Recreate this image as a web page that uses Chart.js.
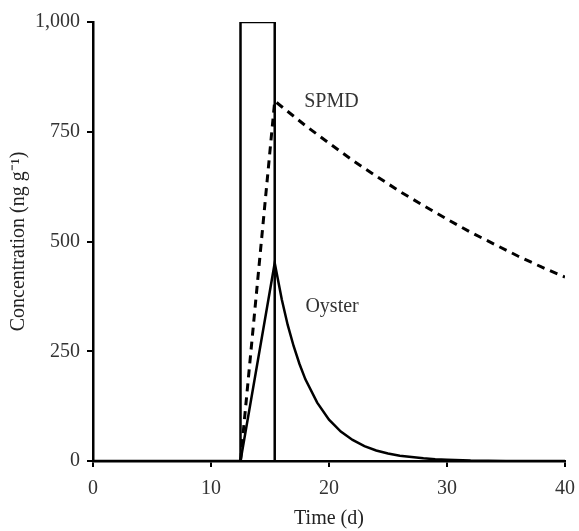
<!DOCTYPE html>
<html>
<head>
<meta charset="utf-8">
<script src="https://cdn.jsdelivr.net/npm/chart.js@4/dist/chart.umd.min.js"></script>
<style>
  html, body { margin: 0; padding: 0; background: #fff; }
  #wrap { width: 579px; height: 531px; }
</style>
</head>
<body>
<div id="wrap"><canvas id="chart"></canvas></div>
<script>
// exposure pulse (box)
const pulseDays = [12.5, 12.5, 15.4, 15.4];
const pulseConc = [0, 1000, 1000, 0];

// oyster curve
const oysterDays = [0, 12.5, 15.4, 16, 16.5, 17, 17.5, 18, 19, 20, 21, 22, 23, 24, 25, 26, 27, 28, 29, 30, 32, 35, 40];
const oysterConc = [0, 0, 451, 368, 310, 262, 221, 186, 133, 94, 67, 48, 34, 24, 17, 12, 9, 6, 4, 3, 1, 0, 0];

// SPMD curve
const spmdDays = [12.5, 15.4, 16, 18, 20, 22, 24, 26, 28, 30, 32, 34, 36, 38, 40];
const spmdConc = [0, 820, 807, 764, 724, 685, 649, 614, 582, 551, 521, 494, 467, 442, 419];

const xTicks = [0, 10, 20, 30, 40];
const yTicks = [0, 250, 500, 750, 1000];

// curve labels: [text, day, conc]
const curveLabels = [
    ['SPMD', 17.9, 819],
    ['Oyster', 18.0, 352]
];

const serif = 'Liberation Serif, Times New Roman, serif';
const toPts = (xs, ys) => xs.map((x, i) => ({ x: x, y: ys[i] }));

// draws the curve names next to the lines
const labelPlugin = {
    id: 'curveLabels',
    afterDatasetsDraw(chart) {
        const { ctx, scales } = chart;
        ctx.save();
        ctx.font = '20px ' + serif;
        ctx.fillStyle = '#333';
        ctx.textAlign = 'left';
        ctx.textBaseline = 'middle';
        curveLabels.forEach(l => {
            ctx.fillText(l[0], scales.x.getPixelForValue(l[1]), scales.y.getPixelForValue(l[2]));
        });
        ctx.restore();
    }
};

new Chart(document.getElementById('chart').getContext('2d'), {
    type: 'scatter',
    data: {
        datasets: [
            {
                data: toPts(pulseDays, pulseConc),
                showLine: true,
                borderColor: '#000',
                borderWidth: 2.5,
                pointRadius: 0
            },
            {
                data: toPts(oysterDays, oysterConc),
                showLine: true,
                borderColor: '#000',
                borderWidth: 2.5,
                pointRadius: 0
            },
            {
                data: toPts(spmdDays, spmdConc),
                showLine: true,
                borderColor: '#000',
                borderWidth: 3,
                borderDash: [8, 6],
                pointRadius: 0
            }
        ]
    },
    options: {
        responsive: true,
        maintainAspectRatio: false,
        animation: false,
        layout: { padding: { left: 0, right: 14, top: 22, bottom: 0 } },
        plugins: { legend: { display: false }, tooltip: { enabled: false } },
        scales: {
            x: {
                type: 'linear',
                min: 0,
                max: 40,
                afterBuildTicks: s => { s.ticks = xTicks.map(v => ({ value: v })); },
                afterFit: s => { s.height = 70; s.paddingLeft = 0; s.paddingRight = 0; },
                border: { color: '#000', width: 2.5 },
                grid: { drawOnChartArea: false, color: '#000', lineWidth: 2, tickLength: 6 },
                ticks: { color: '#333', font: { family: serif, size: 20 }, padding: 10, maxRotation: 0 },
                title: { display: true, text: 'Time (d)', color: '#222', font: { family: serif, size: 20 }, padding: { top: 0, bottom: 0 } }
            },
            y: {
                min: 0,
                max: 1000,
                afterBuildTicks: s => { s.ticks = yTicks.map(v => ({ value: v })); },
                afterFit: s => { s.width = 93; },
                border: { color: '#000', width: 2.5 },
                grid: { drawOnChartArea: false, color: '#000', lineWidth: 2, tickLength: 6 },
                ticks: {
                    color: '#333',
                    font: { family: serif, size: 20 },
                    padding: 7,
                    callback: v => v.toLocaleString('en-US')
                },
                title: { display: true, text: 'Concentration (ng g⁻¹)', color: '#222', font: { family: serif, size: 20 }, padding: { top: 7, bottom: 0 } }
            }
        }
    },
    plugins: [labelPlugin]
});
</script>
</body>
</html>
